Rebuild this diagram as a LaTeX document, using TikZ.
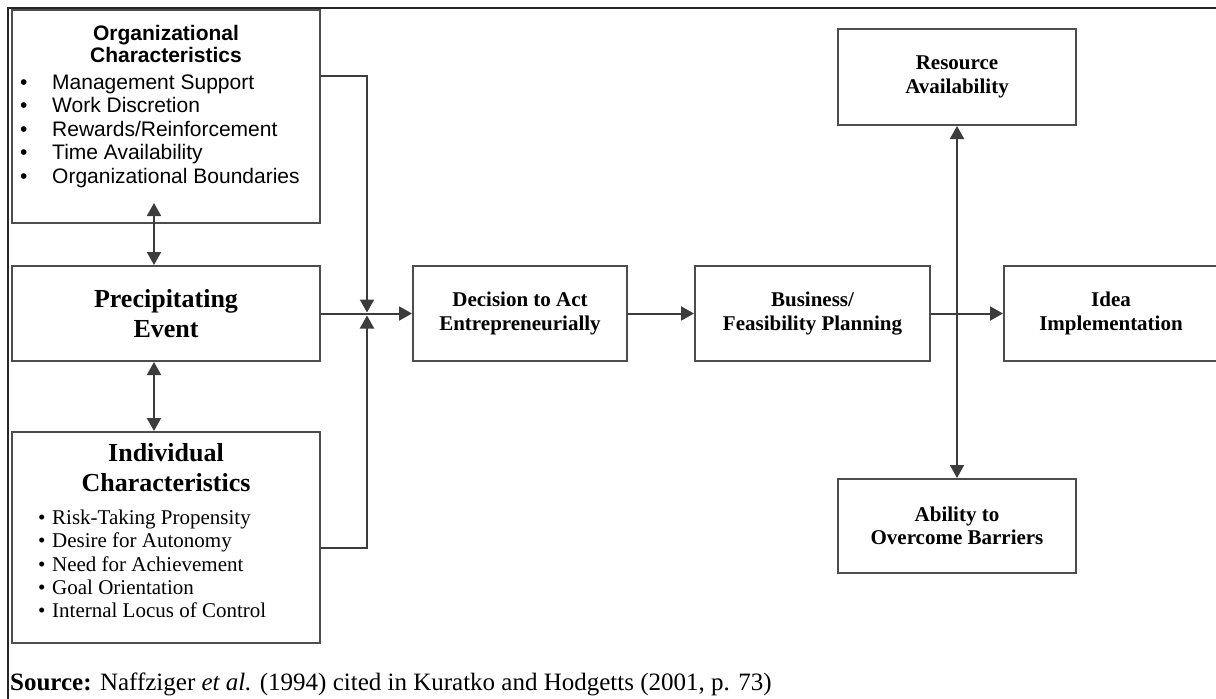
\documentclass[tikz,border=0pt]{standalone}
\usepackage{fontspec}
\setmainfont{Liberation Serif}
\newfontfamily\arialfont{Liberation Sans}
\usetikzlibrary{arrows.meta}
\definecolor{boxgray}{HTML}{4D4D4D}
\definecolor{arrgray}{HTML}{3C3C3C}
\begin{document}
\begin{tikzpicture}[x=1pt,y=-1pt,
  box/.style={draw=boxgray,line width=2pt,inner sep=0pt,align=center},
  smallbold/.style={font=\bfseries\fontsize{21}{23.5}\selectfont},
  bigbold/.style={font=\bfseries\fontsize{26}{30}\selectfont},
  conn/.style={draw=arrgray,line width=2pt},
  tip/.style={-{Triangle[length=13pt,width=14pt]}},
  dtip/.style={{Triangle[length=13pt,width=14pt]}-{Triangle[length=13pt,width=14pt]}},
]
\clip (0,0) rectangle (1216,699);
\fill[white] (0,0) rectangle (1216,699);
% frame
\draw[line width=2.5pt,black!85] (8,699) -- (8,8) -- (1216,8);

% boxes
\node[box,minimum width=308pt,minimum height=213pt] (org) at (166,116.5) {};
\node[font=\arialfont\bfseries\fontsize{21}{22}\selectfont,align=center] (orgtitle) at (166,44) {Organizational\\Characteristics};
\node[font=\arialfont\fontsize{21}{23.5}\selectfont,align=left,anchor=west,inner sep=0pt] (orglist) at (20,131)
 {\makebox[32pt][l]{\textbullet}Management Support\\
  \makebox[32pt][l]{\textbullet}Work Discretion\\
  \makebox[32pt][l]{\textbullet}Rewards/Reinforcement\\
  \makebox[32pt][l]{\textbullet}Time Availability\\
  \makebox[32pt][l]{\textbullet}Organizational Boundaries};

\node[box,bigbold,minimum width=308pt,minimum height=95pt] (precip) at (166,313.5) {Precipitating\\Event};

\node[box,minimum width=308pt,minimum height=211pt] (ind) at (166,537.5) {};
\node[bigbold,align=center] (indtitle) at (166,468) {Individual\\Characteristics};
\node[font=\fontsize{21}{23.3}\selectfont,align=left,anchor=west,inner sep=0pt] (indlist) at (38,564)
 {\makebox[14pt][l]{\textbullet}Risk-Taking Propensity\\
  \makebox[14pt][l]{\textbullet}Desire for Autonomy\\
  \makebox[14pt][l]{\textbullet}Need for Achievement\\
  \makebox[14pt][l]{\textbullet}Goal Orientation\\
  \makebox[14pt][l]{\textbullet}Internal Locus of Control};

\node[box,smallbold,minimum width=214pt,minimum height=95pt] (dec) at (520,313.5) {Decision to Act\\Entrepreneurially};
\node[box,smallbold,minimum width=235pt,minimum height=95pt] (bus) at (812.5,313.5) {Business/\\Feasibility Planning};
\node[box,smallbold,minimum width=214pt,minimum height=95pt] (idea) at (1111,313.5) {Idea\\Implementation};
\node[box,smallbold,minimum width=238pt,minimum height=96pt] (res) at (957,77) {Resource\\Availability};
\node[box,smallbold,minimum width=238pt,minimum height=94pt] (abi) at (957,526) {Ability to\\Overcome Barriers};

% connectors
\coordinate (jt) at (367,312.5);
\coordinate (jb) at (367,315.5);
\coordinate (oa) at (154,203);
\draw[conn,tip] (precip.east) -- (dec.west);
\draw[conn,tip] ([yshift=-67pt]org.north east) -| (jt);
\draw[conn,tip] ([yshift=-117pt]ind.north east) -| (jb);
\draw[conn,dtip] (oa) -- (oa |- precip.north);
\draw[conn,dtip] (oa |- precip.south) -- (oa |- ind.north);
\draw[conn,tip] (dec.east) -- (bus.west);
\draw[conn,tip] (bus.east) -- (idea.west);
\draw[conn,dtip] (res.south) -- (abi.north);

% source
\node[anchor=base west,inner sep=0pt,font=\fontsize{25}{28}\selectfont] (src) at (10,690)
 {\textbf{Source:} Naffziger \textit{et al.} (1994) cited in Kuratko and Hodgetts (2001, p. 73)};
\end{tikzpicture}
\end{document}
